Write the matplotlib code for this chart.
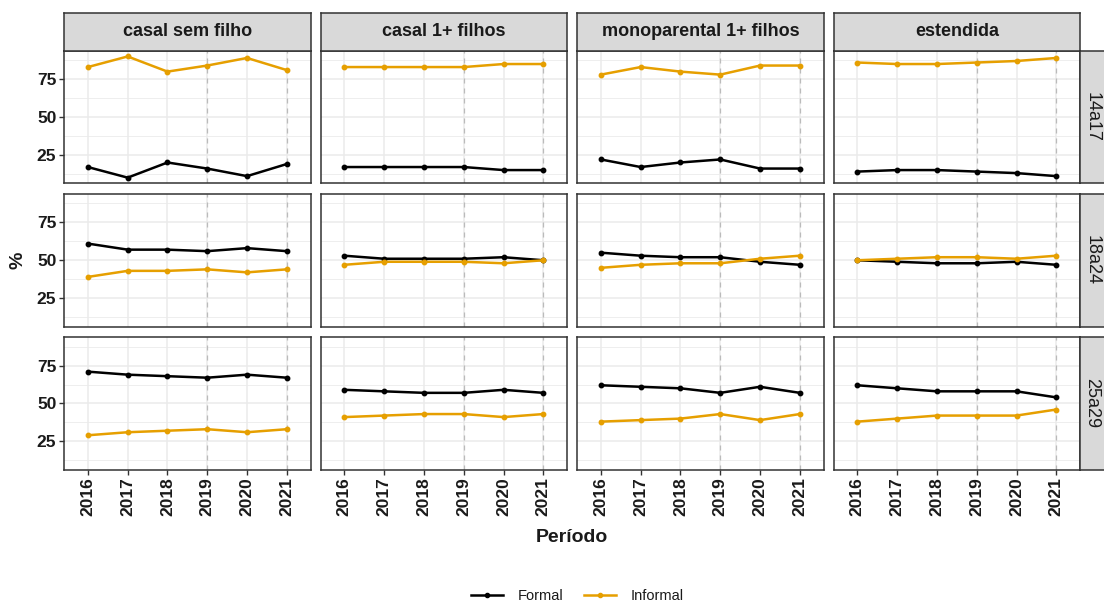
import matplotlib
matplotlib.use("Agg")
import matplotlib.pyplot as plt
from matplotlib.lines import Line2D

# dados (%)
anos = [2016, 2017, 2018, 2019, 2020, 2021]
familias = ["casal sem filho", "casal 1+ filhos", "monoparental 1+ filhos", "estendida"]
idades = ["14a17", "18a24", "25a29"]

# uma lista por tipo de familia, na ordem de `familias`
formal_14a17 = [[17, 10, 20, 16, 11, 19],
                [17, 17, 17, 17, 15, 15],
                [22, 17, 20, 22, 16, 16],
                [14, 15, 15, 14, 13, 11]]
informal_14a17 = [[83, 90, 80, 84, 89, 81],
                  [83, 83, 83, 83, 85, 85],
                  [78, 83, 80, 78, 84, 84],
                  [86, 85, 85, 86, 87, 89]]
formal_18a24 = [[61, 57, 57, 56, 58, 56],
                [53, 51, 51, 51, 52, 50],
                [55, 53, 52, 52, 49, 47],
                [50, 49, 48, 48, 49, 47]]
informal_18a24 = [[39, 43, 43, 44, 42, 44],
                  [47, 49, 49, 49, 48, 50],
                  [45, 47, 48, 48, 51, 53],
                  [50, 51, 52, 52, 51, 53]]
formal_25a29 = [[71, 69, 68, 67, 69, 67],
                [59, 58, 57, 57, 59, 57],
                [62, 61, 60, 57, 61, 57],
                [62, 60, 58, 58, 58, 54]]
informal_25a29 = [[29, 31, 32, 33, 31, 33],
                  [41, 42, 43, 43, 41, 43],
                  [38, 39, 40, 43, 39, 43],
                  [38, 40, 42, 42, 42, 46]]

formal = [formal_14a17, formal_18a24, formal_25a29]
informal = [informal_14a17, informal_18a24, informal_25a29]
anos_tracejados = [2019, 2021]

cor_formal = "#000000"
cor_informal = "#E69F00"
borda = "#333333"

plt.rcParams["font.family"] = ["Liberation Sans", "DejaVu Sans"]

W, H = 1104, 605
fig = plt.figure(figsize=(W / 100, H / 100), dpi=100)


def box(x0, y0, w, h):
    # pixels (a partir do topo) -> fracao da figura
    return [x0 / W, 1 - (y0 + h) / H, w / W, h / H]


left0, pw, gw = 64, 246.7, 9.8
top0, ph, gh = 50.7, 132.7, 10.5
strip_h = 37.4

for i, idade in enumerate(idades):
    y0 = top0 + i * (ph + gh)
    for j, fam in enumerate(familias):
        x0 = left0 + j * (pw + gw)
        ax = fig.add_axes(box(x0, y0, pw, ph))
        ax.set_xlim(2015.4, 2021.6)
        ax.set_ylim(6.2, 93.8)
        ax.set_yticks([25, 50, 75])
        ax.set_yticks([12.5, 37.5, 62.5, 87.5], minor=True)
        ax.set_xticks(anos)
        ax.grid(which="major", color="#EBEBEB", lw=1.1, zorder=0)
        ax.grid(which="minor", axis="y", color="#EBEBEB", lw=0.6, zorder=0)
        ax.set_axisbelow(True)
        for a in anos_tracejados:
            ax.axvline(a, color="#BBBBBB", lw=0.9, ls=(0, (4, 4)), zorder=1)
        ax.plot(anos, formal[i][j], color=cor_formal, lw=1.8, marker="o",
                ms=3.2, zorder=3)
        ax.plot(anos, informal[i][j], color=cor_informal, lw=1.8, marker="o",
                ms=3.2, zorder=4)
        for s in ax.spines.values():
            s.set_color(borda)
            s.set_linewidth(1.1)
        ax.tick_params(which="major", length=3.5, width=1, color=borda,
                       labelsize=12.5, labelcolor="#1A1A1A", pad=2)
        ax.tick_params(which="minor", length=0)
        if j == 0:
            for t in ax.get_yticklabels():
                t.set_fontweight("bold")
        else:
            ax.tick_params(axis="y", left=False, labelleft=False)
        if i == len(idades) - 1:
            ax.set_xticklabels([str(a) for a in anos], rotation=90,
                               fontweight="bold")
        else:
            ax.tick_params(axis="x", bottom=False, labelbottom=False)

        # faixa superior
        if i == 0:
            sx = fig.add_axes(box(x0, top0 - strip_h, pw, strip_h))
            sx.set_facecolor("#D9D9D9")
            sx.set_xticks([])
            sx.set_yticks([])
            for s in sx.spines.values():
                s.set_color(borda)
                s.set_linewidth(1.1)
            sx.text(0.5, 0.5, fam, ha="center", va="center", fontsize=13,
                    fontweight="bold", color="#1A1A1A", transform=sx.transAxes)

    # faixa lateral
    rx = fig.add_axes(box(left0 + 4 * pw + 3 * gw, y0, 26, ph))
    rx.set_facecolor("#D9D9D9")
    rx.set_xticks([])
    rx.set_yticks([])
    for s in rx.spines.values():
        s.set_color(borda)
        s.set_linewidth(1.1)
    rx.text(0.45, 0.5, idade, ha="center", va="center", fontsize=13,
            rotation=-90, color="#1A1A1A", transform=rx.transAxes)

fig.text(572 / W, 1 - 537 / H, "Período", ha="center", va="center",
         fontsize=14, fontweight="bold", color="#1A1A1A")
fig.text(18 / W, 1 - 260 / H, "%", ha="center", va="center", rotation=90,
         fontsize=14, fontweight="bold", color="#1A1A1A")

handles = [Line2D([], [], color=cor_formal, lw=1.8, marker="o", ms=3),
           Line2D([], [], color=cor_informal, lw=1.8, marker="o", ms=3)]
fig.legend(handles, ["Formal", "Informal"], loc="center",
           bbox_to_anchor=(577 / W, 1 - 596 / H), ncol=2, frameon=False,
           fontsize=10.5, handlelength=2.2, handletextpad=1.0,
           columnspacing=1.4, labelcolor="#1A1A1A")

fig.savefig("out.png", dpi=100)
